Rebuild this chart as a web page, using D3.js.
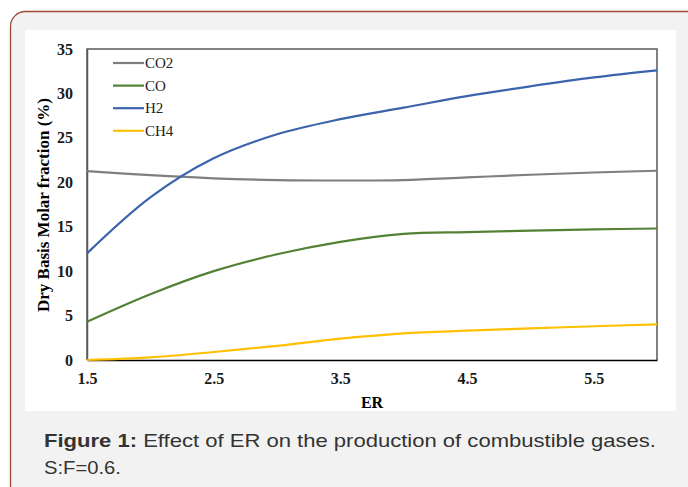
<!DOCTYPE html>
<html lang="en">
<head>
<meta charset="utf-8">
<title>Effect of ER</title>
<script src="https://d3js.org/d3.v7.min.js"></script>
<style>
  body { margin: 0; background: #fff; }
  svg { display: block; }
</style>
</head>
<body>
<script>
// ER values and gas molar fractions (%)
var er   = [1.5, 2.0, 2.5, 3.0, 3.5, 4.0, 4.5, 5.0, 5.5, 6.0];
var co2  = [21.25, 20.8, 20.45, 20.25, 20.2, 20.25, 20.55, 20.85, 21.1, 21.3];
var co   = [4.3, 7.4, 10.0, 11.9, 13.3, 14.2, 14.4, 14.55, 14.7, 14.8];
var h2   = [12.0, 18.3, 22.7, 25.4, 27.1, 28.4, 29.7, 30.8, 31.8, 32.6];
var ch4  = [0.0, 0.3, 0.9, 1.6, 2.4, 3.0, 3.3, 3.55, 3.8, 4.0];
var seriesNames = ['CO2', 'CO', 'H2', 'CH4'];
var seriesValues = [co2, co, h2, ch4];
var colors = ['#7f7f7f', '#548235', '#3b64ad', '#ffc000'];
var xTicks = [1.5, 2.5, 3.5, 4.5, 5.5];
var yTicks = [0, 5, 10, 15, 20, 25, 30, 35];

var W = 688, H = 487;
var serif = '"Liberation Serif", "Times New Roman", serif';
var sans = '"Liberation Sans", Arial, sans-serif';
var svg = d3.select('body').append('svg').attr('width', W).attr('height', H);

// outer card
svg.append('rect').attr('x', 10.5).attr('y', 11.5).attr('width', 700).attr('height', 500)
    .attr('rx', 15).style('fill', '#f2f2f2').style('stroke', '#9c4a33').style('stroke-width', 1.3);
// white chart panel
svg.append('rect').attr('x', 25).attr('y', 30).attr('width', 651).attr('height', 381).style('fill', '#fff');

var m = {left: 87, top: 49, right: 657, bottom: 360};
var x = d3.scaleLinear().domain([1.5, 6]).range([m.left, m.right]);
var y = d3.scaleLinear().domain([0, 35]).range([m.bottom, m.top]);

// frame
svg.append('path')
    .attr('d', 'M' + m.left + ',' + m.bottom + 'V' + m.top + 'H' + m.right + 'V' + m.bottom)
    .style('fill', 'none').style('stroke', '#595959').style('stroke-width', 1.5);

var xAxis = svg.append('g').attr('transform', 'translate(0,' + m.bottom + ')')
    .call(d3.axisBottom(x).tickValues(xTicks).tickSize(0).tickPadding(13).tickFormat(d3.format('.1f')));
var yAxis = svg.append('g').attr('transform', 'translate(' + m.left + ',0)')
    .call(d3.axisLeft(y).tickValues(yTicks).tickSize(0).tickPadding(14));
[xAxis, yAxis].forEach(function (g) {
    g.selectAll('text').style('font-family', serif)
        .style('font-size', '16px').style('font-weight', 'bold').style('fill', '#1a1a1a');
});
xAxis.select('.domain').style('stroke', '#000').style('stroke-width', 1.5);
yAxis.select('.domain').style('stroke', '#595959').style('stroke-width', 1.5);

// axis titles
svg.append('text').attr('x', (m.left + m.right) / 2).attr('y', 408).attr('text-anchor', 'middle')
    .style('font-family', serif).style('font-size', '16px').style('font-weight', 'bold')
    .text('ER');
svg.append('text').attr('transform', 'translate(49,' + 205 + ') rotate(-90)').attr('text-anchor', 'middle')
    .style('font-family', serif).style('font-size', '17px').style('font-weight', 'bold')
    .text('Dry Basis Molar fraction (%)');

// lines
var line = d3.line()
    .x(function (d, i) { return x(er[i]); })
    .y(function (d) { return y(d); })
    .curve(d3.curveCatmullRom.alpha(0.5));
svg.selectAll('path.series')
    .data(seriesValues)
    .enter()
    .append('path')
    .attr('class', 'series')
    .attr('d', line)
    .style('fill', 'none')
    .style('stroke', function (d, i) { return colors[i]; })
    .style('stroke-width', 2.2);

// legend
var legend = svg.selectAll('g.legend')
    .data(seriesNames)
    .enter()
    .append('g')
    .attr('class', 'legend')
    .attr('transform', function (d, i) { return 'translate(113,' + (63 + i * 22.6) + ')'; });
legend.append('line').attr('x1', 0).attr('x2', 31).attr('y1', 0).attr('y2', 0)
    .style('stroke', function (d, i) { return colors[i]; }).style('stroke-width', 2.2);
legend.append('text').attr('x', 32).attr('y', 5).text(function (d) { return d; })
    .style('font-family', serif).style('font-size', '15px').style('fill', '#222');

// caption
var cap = svg.append('text').attr('x', 44).attr('y', 447)
    .attr('textLength', 612).attr('lengthAdjust', 'spacingAndGlyphs')
    .style('font-family', sans).style('font-size', '18.5px').style('fill', '#333');
cap.append('tspan').style('font-weight', 'bold').text('Figure 1:');
cap.append('tspan').text(' Effect of ER on the production of combustible gases.');
svg.append('text').attr('x', 44).attr('y', 474)
    .attr('textLength', 77).attr('lengthAdjust', 'spacingAndGlyphs')
    .style('font-family', sans).style('font-size', '18.5px').style('fill', '#333')
    .text('S:F=0.6.');
</script>
</body>
</html>
